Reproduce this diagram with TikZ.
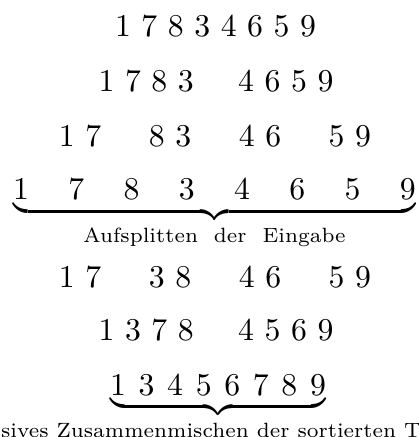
\documentclass[tikz,border=0pt]{standalone}
\usepackage{amsmath,amssymb}
\usepackage{tikz}

\newcommand{\halfgap}{\hspace{14pt}}
\newcommand{\pairgap}{\hspace{15pt}}
\newcommand{\wide}{\hspace{12.4pt}}
\newcommand{\tight}{\hspace{4pt}}
\newcommand{\bracelabel}[1]{\text{\fontsize{6.5}{8}\selectfont #1}}

\begin{document}
\begin{tikzpicture}[x=0.315pt,y=-0.315pt,
  row/.style={anchor=base,inner sep=0pt,outer sep=0pt}]
\useasboundingbox (0,0) rectangle (418,437);
% splitting
\node[row] (in)  at (215.5,37) {1 7 8 3 4 6 5 9};
\node[row] (s2)  at (216,92)   {1 7 8 3\halfgap 4 6 5 9};
\node[row] (s4)  at (215,147)  {1 7\pairgap 8 3\pairgap 4 6\pairgap 5 9};
\node[row] (s8)  at (214.5,200) {$\underbrace{1\wide 7\wide 8\wide 3\wide 4\wide 6\wide 5\wide 9}_{\bracelabel{Aufsplitten\ \ der\ \ Eingabe}}$};
% merging
\node[row] (m4)  at (215,287)  {1 7\pairgap 3 8\pairgap 4 6\pairgap 5 9};
\node[row] (m2)  at (216,340)  {1 3 7 8\halfgap 4 5 6 9};
\node[row] (out) at (218,395) {$\underbrace{1\tight 3\tight 4\tight 5\tight 6\tight 7\tight 8\tight 9}_{\bracelabel{Sukzessives Zusammenmischen der sortierten Teilfolgen}}$};
\end{tikzpicture}
\end{document}
